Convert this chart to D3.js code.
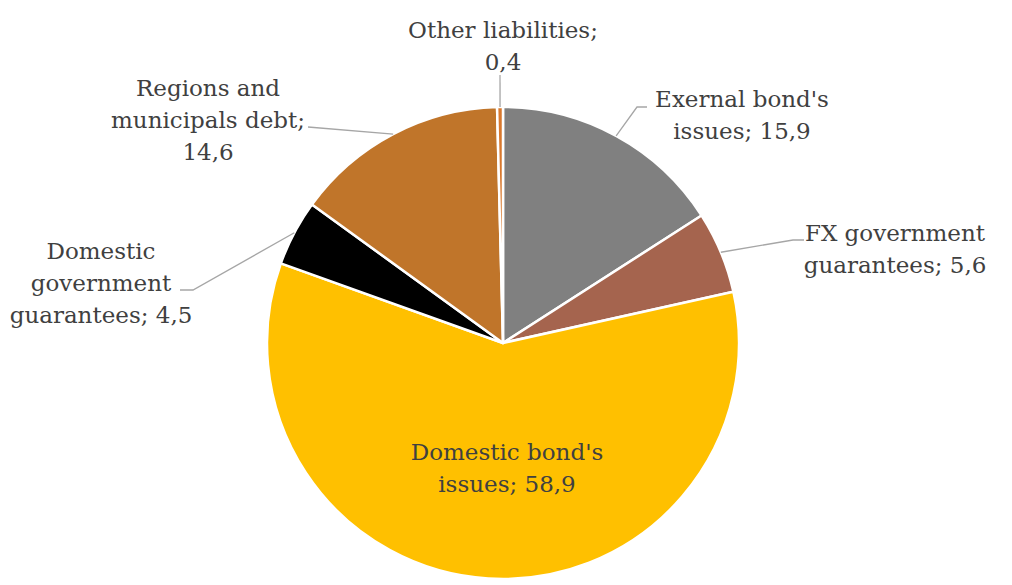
<!DOCTYPE html>
<html>
<head>
<meta charset="utf-8">
<script src="https://cdn.jsdelivr.net/npm/d3@7"></script>
<style>
  body { margin: 0; background: #fff; }
  text { font-family: 'DejaVu Serif', serif; fill: #404040; }
</style>
</head>
<body>
<div id="chart"></div>
<script>
// data, clockwise from 12 o'clock
const categories = ["Exernal bond's issues", 'FX government guarantees', "Domestic bond's issues",
  'Domestic government guarantees', 'Regions and municipals debt', 'Other liabilities']
const values = [15.9, 5.6, 58.9, 4.5, 14.6, 0.4]
const labelLines = [
  ["Exernal bond's", 'issues; 15,9'],
  ['FX government', 'guarantees; 5,6'],
  ["Domestic bond's", 'issues; 58,9'],
  ['Domestic', 'government', 'guarantees; 4,5'],
  ['Regions and', 'municipals debt;', '14,6'],
  ['Other liabilities;', '0,4']
]
const colors = ['#808080', '#A5644E', '#FFC000', '#000000', '#C0752A', '#D9782D']

const width = 1012, height = 585
const cx = 503, cy = 343, radius = 236
const fontSize = 23, lineH = 32

// label layout: text block centre relative to pie centre, and leader elbow
const labelPos = [
  {x: 239, y: -228, anchor: 'middle', elbow: [134, -236], end: [144, -236]},
  {x: 392, y: -94, anchor: 'middle', elbow: [290, -103], end: [301, -103]},
  {x: 4, y: 125, anchor: 'middle', inside: true},
  {x: -402, y: -60, anchor: 'middle', elbow: [-310, -53], end: [-323, -53]},
  {x: -295, y: -223, anchor: 'middle', elbow: [-195, -216], end: [-195, -216]},
  {x: 0, y: -297, anchor: 'middle', elbow: [-3, -268], end: [-3, -268]}
]

const svg = d3.select('#chart')
  .append('svg')
  .attr('width', width)
  .attr('height', height)

const g = svg.append('g')
  .attr('transform', `translate(${cx}, ${cy})`)

const pie = d3.pie().sort(null).value(d => d)
const arcs = pie(values)
const arc = d3.arc().innerRadius(0).outerRadius(radius)

g.selectAll('path.slice')
  .data(arcs)
  .enter()
  .append('path')
  .attr('class', 'slice')
  .attr('d', arc)
  .style('fill', (d, i) => colors[i])
  .style('stroke', '#fff')
  .style('stroke-width', 2.5)
  .style('stroke-linejoin', 'round')

// leader lines from slice edge at mid angle
arcs.forEach((d, i) => {
  const p = labelPos[i]
  if (p.inside) return
  const mid = (d.startAngle + d.endAngle) / 2
  const sx = radius * Math.sin(mid)
  const sy = -radius * Math.cos(mid)
  g.append('polyline')
    .attr('points', [[sx, sy], p.elbow, p.end].map(q => q.join(',')).join(' '))
    .style('fill', 'none')
    .style('stroke', '#A6A6A6')
    .style('stroke-width', 1.3)
})

// labels
arcs.forEach((d, i) => {
  const p = labelPos[i]
  const lines = labelLines[i]
  const top = p.y - (lines.length - 1) * lineH / 2
  const t = g.append('text')
    .attr('text-anchor', p.anchor)
    .style('font-size', fontSize + 'px')
  lines.forEach((ln, k) => {
    t.append('tspan')
      .attr('x', p.x)
      .attr('y', top + k * lineH)
      .attr('dy', '0.35em')
      .text(ln)
  })
})
</script>
</body>
</html>
